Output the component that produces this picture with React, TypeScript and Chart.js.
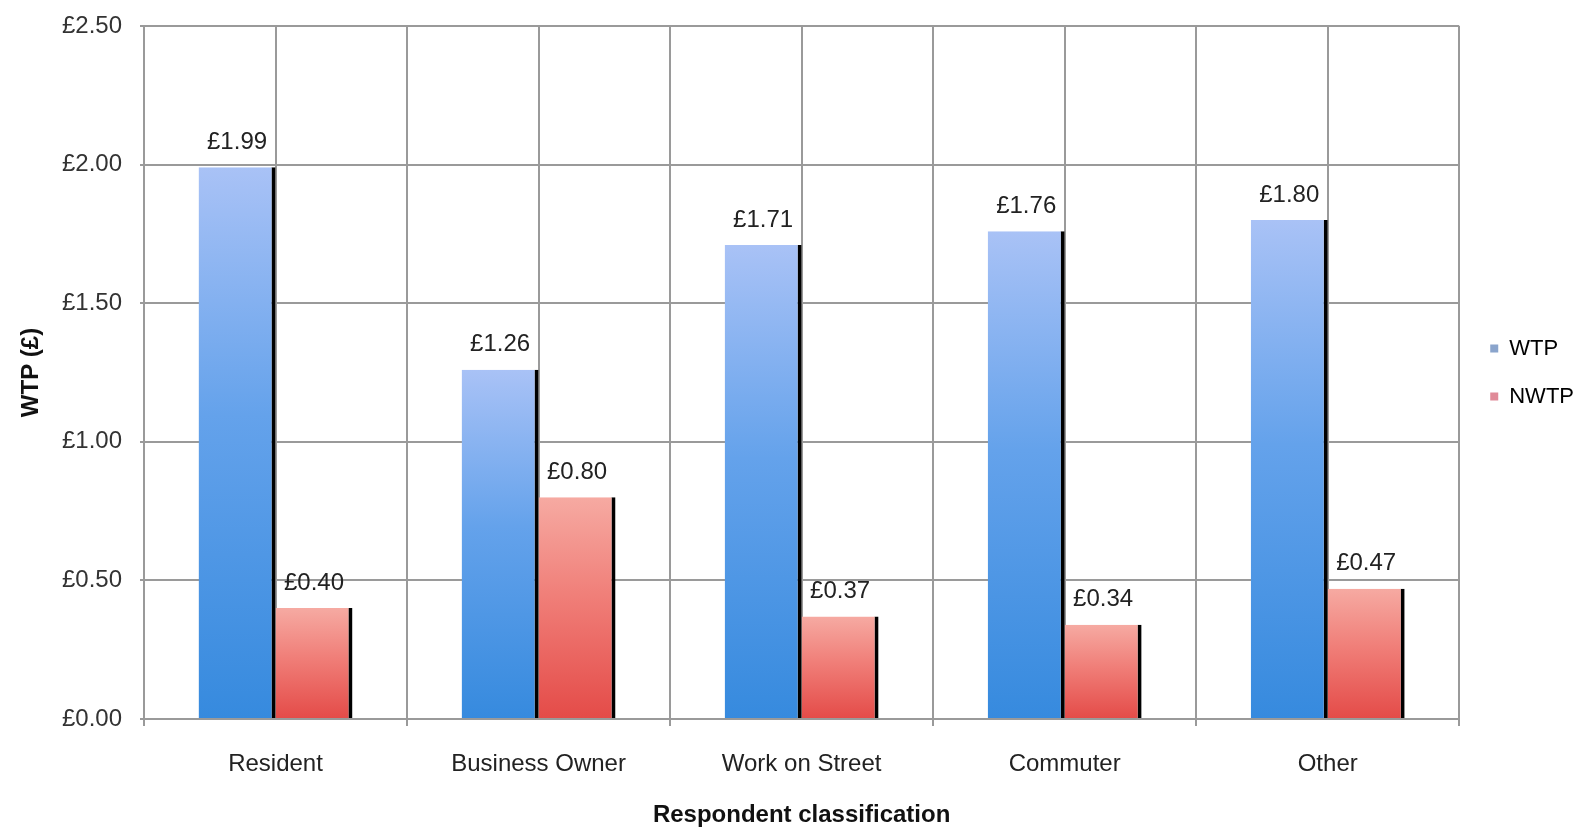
import { useEffect, useRef } from "react";
import { Chart, registerables } from "chart.js";
Chart.register(...registerables);

const categories = ["Resident", "Business Owner", "Work on Street", "Commuter", "Other"];
const wtpValues = [1.99, 1.26, 1.71, 1.76, 1.8];
const nwtpValues = [0.4, 0.8, 0.37, 0.34, 0.47];
const yTicks = [0, 0.5, 1, 1.5, 2, 2.5];
const seriesNames = ["WTP", "NWTP"];

const FONT = "'Liberation Sans', Arial, sans-serif";
const GRID = "#9a9a9a";
const BLUE_STOPS = ["#a9c2f6", "#64a2eb", "#368ade"];
const RED_STOPS = ["#f6aaa2", "#f07e78", "#e44b48"];
const LEGEND_COLORS = ["#8aa4cc", "#e08a98"];

function barGradient(c: any, stops: string[]) {
  const chart = c.chart;
  const area = chart.chartArea;
  if (!area || c.type !== "data" || c.dataIndex === undefined) return stops[1];
  const v = c.raw as number;
  const ys = chart.scales.y;
  const top = ys.getPixelForValue(v);
  const bottom = ys.getPixelForValue(0);
  if (!isFinite(top) || !isFinite(bottom) || bottom - top < 1) return stops[1];
  const g = chart.ctx.createLinearGradient(0, top, 0, bottom);
  g.addColorStop(0, stops[0]);
  g.addColorStop(0.45, stops[1]);
  g.addColorStop(1, stops[2]);
  return g;
}

const centerLines = {
  id: "centerLines",
  beforeDatasetsDraw(chart: any) {
    const { ctx, chartArea, scales } = chart;
    const x = scales.x;
    const y = scales.y;
    ctx.save();
    ctx.strokeStyle = GRID;
    ctx.lineWidth = 2;
    categories.forEach((_, i) => {
      const px = Math.round(x.getPixelForValue(i));
      ctx.beginPath();
      ctx.moveTo(px, chartArea.top);
      ctx.lineTo(px, chartArea.bottom);
      ctx.stroke();
    });
    yTicks.forEach((v) => {
      const py = Math.round(y.getPixelForValue(v));
      ctx.beginPath();
      ctx.moveTo(chartArea.left - 4, py);
      ctx.lineTo(chartArea.left, py);
      ctx.stroke();
    });
    ctx.restore();
  },
};

const valueLabels = {
  id: "valueLabels",
  afterDatasetsDraw(chart: any) {
    const ctx = chart.ctx;
    ctx.save();
    ctx.font = `24px ${FONT}`;
    ctx.fillStyle = "#222";
    ctx.textAlign = "center";
    ctx.textBaseline = "middle";
    chart.data.datasets.forEach((ds: any, di: number) => {
      const meta = chart.getDatasetMeta(di);
      meta.data.forEach((bar: any, i: number) => {
        const v = ds.data[i] as number;
        ctx.fillText("£" + v.toFixed(2), bar.x, bar.y - 25);
      });
    });
    ctx.restore();
  },
};

export default function App() {
  const ref = useRef<HTMLCanvasElement | null>(null);
  useEffect(() => {
    document.body.style.margin = "0";
    const canvas = ref.current;
    if (!canvas) return;
    const chart = new Chart(canvas, {
      type: "bar",
      data: {
        labels: categories,
        datasets: [
          {
            label: seriesNames[0],
            data: wtpValues,
            backgroundColor: (c: any) => barGradient(c, BLUE_STOPS),
            borderColor: "#000",
            borderWidth: { top: 0, right: 4, bottom: 0, left: 0 },
            categoryPercentage: 0.585,
            barPercentage: 1.0,
          },
          {
            label: seriesNames[1],
            data: nwtpValues,
            backgroundColor: (c: any) => barGradient(c, RED_STOPS),
            borderColor: "#000",
            borderWidth: { top: 0, right: 4, bottom: 0, left: 0 },
            categoryPercentage: 0.585,
            barPercentage: 1.0,
          },
        ],
      },
      options: {
        responsive: false,
        maintainAspectRatio: false,
        animation: false,
        layout: { padding: { top: 26, left: 0, right: 0, bottom: 0 } },
        plugins: {
          tooltip: { enabled: false },
          legend: {
            position: "right",
            fullSize: false,
            align: "center",
            labels: {
              font: { family: FONT, size: 22 },
              color: "#222",
              boxWidth: 8,
              boxHeight: 8,
              padding: 26,
              generateLabels: () =>
                seriesNames.map((n, i) => ({
                  text: n,
                  fillStyle: LEGEND_COLORS[i],
                  strokeStyle: LEGEND_COLORS[i],
                  lineWidth: 0,
                  hidden: false,
                  datasetIndex: i,
                })),
            },
          },
        },
        scales: {
          x: {
            offset: true,
            grid: { offset: true, color: GRID, lineWidth: 2, tickLength: 7 },
            border: { color: GRID, width: 2 },
            ticks: { font: { family: FONT, size: 24 }, color: "#222", padding: 24, maxRotation: 0 },
            title: {
              display: true,
              text: "Respondent classification",
              font: { family: FONT, size: 24, weight: "bold" },
              color: "#111",
              padding: { top: 0, bottom: 2 },
            },
            afterFit: (s: any) => {
              s.height = 113;
            },
          },
          y: {
            min: 0,
            max: 2.5,
            afterBuildTicks: (s: any) => {
              s.ticks = yTicks.map((v) => ({ value: v }));
            },
            ticks: {
              callback: (v: any) => "£" + Number(v).toFixed(2),
              font: { family: FONT, size: 24 },
              color: "#333",
              padding: 4,
            },
            grid: { color: GRID, lineWidth: 2, tickLength: 18, tickColor: "rgba(0,0,0,0)" },
            border: { color: GRID, width: 2 },
            title: {
              display: true,
              text: "WTP (£)",
              font: { family: FONT, size: 24, weight: "bold" },
              color: "#111",
              padding: { top: 17, bottom: 0 },
            },
            afterFit: (s: any) => {
              s.width = 144;
            },
          },
          yr: {
            type: "linear",
            position: "right",
            display: true,
            grid: { display: false },
            border: { display: false },
            ticks: { display: false },
            afterFit: (s: any) => {
              s.width = 5;
            },
          },
        },
      },
      plugins: [centerLines, valueLabels],
    } as any);
    return () => chart.destroy();
  }, []);
  return (
    <div style={{ position: "absolute", left: 0, top: 0, width: 1584, height: 832, background: "#fff" }}>
      <canvas ref={ref} width={1584} height={832} style={{ display: "block" }} />
    </div>
  );
}
